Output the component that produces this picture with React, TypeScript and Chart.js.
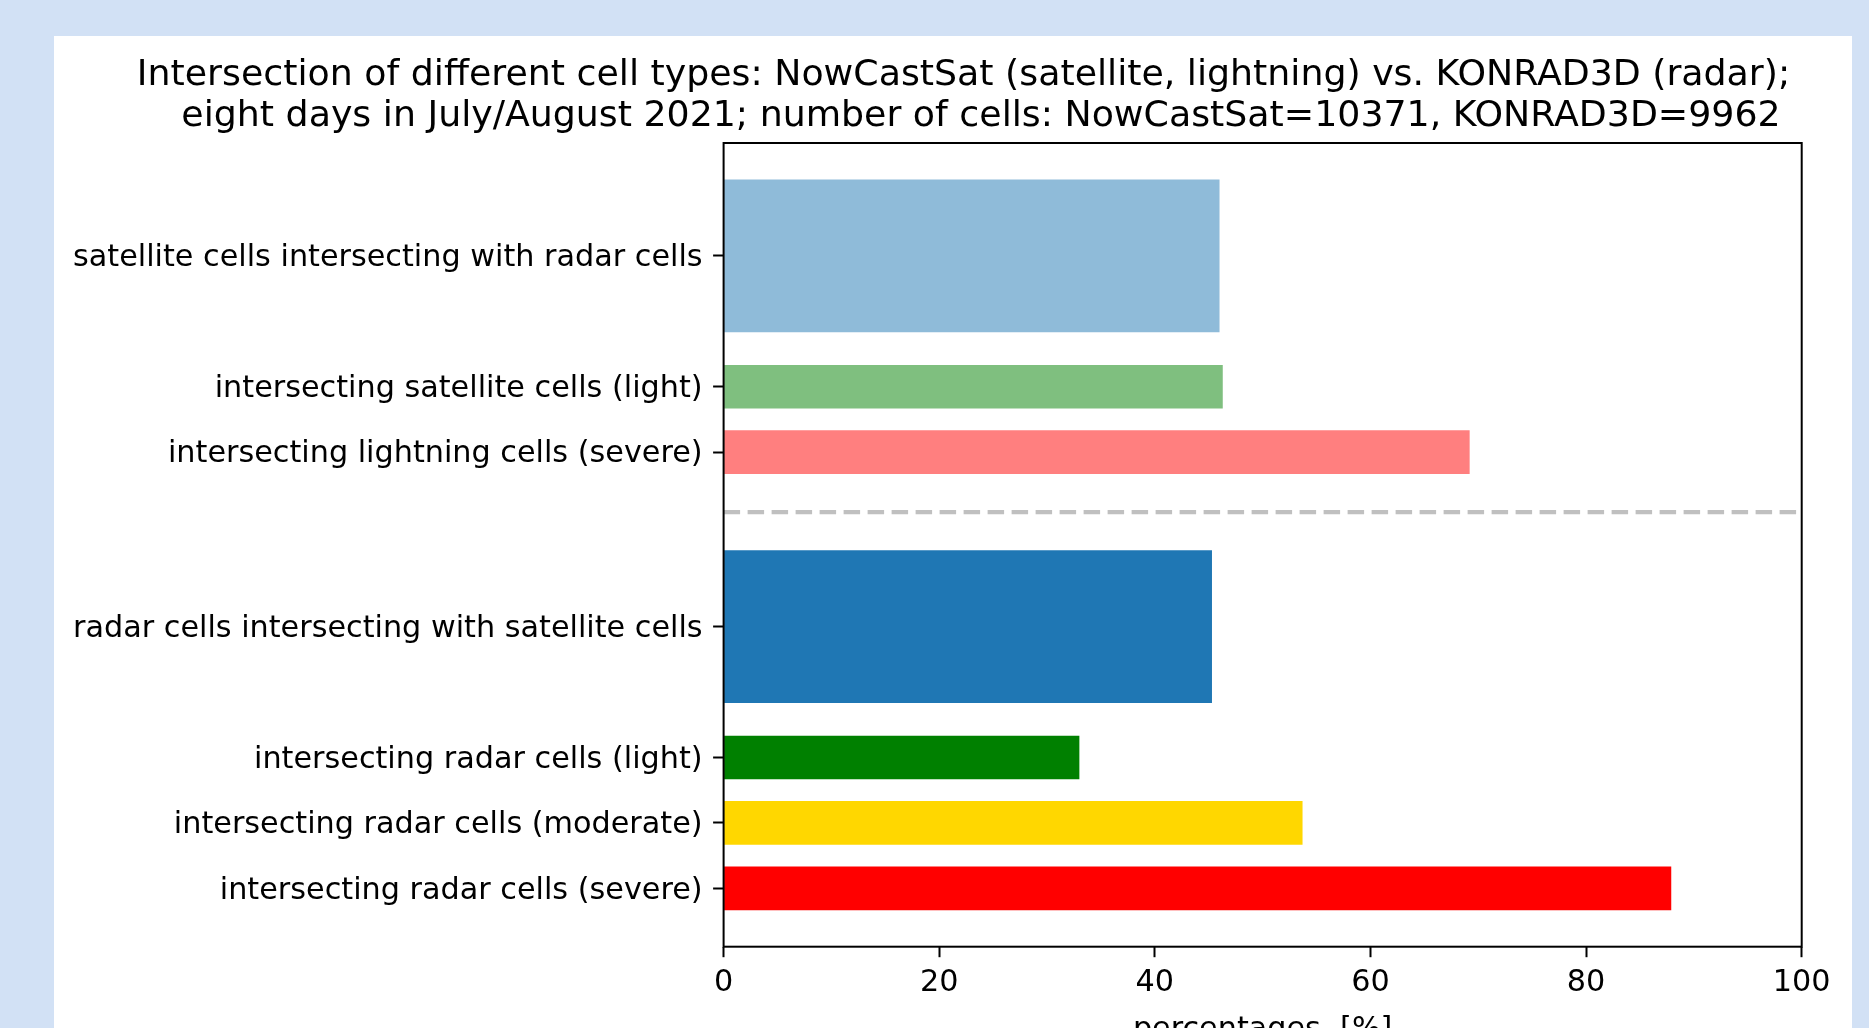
import { useEffect, useRef } from 'react';
import { Chart, registerables } from 'chart.js';

Chart.register(...registerables);

// ---- data ----
const TITLE_LINES = [
  'Intersection of different cell types: NowCastSat (satellite, lightning) vs. KONRAD3D (radar);',
  'eight days in July/August 2021; number of cells: NowCastSat=10371, KONRAD3D=9962',
];

const Y_LABELS = [
  'satellite cells intersecting with radar cells',
  'intersecting satellite cells (light)',
  'intersecting lightning cells (severe)',
  'radar cells intersecting with satellite cells',
  'intersecting radar cells (light)',
  'intersecting radar cells (moderate)',
  'intersecting radar cells (severe)',
];

// bar positions on the (numeric) category axis
const Y_POSITIONS = [2.9, 2.3, 2.0, 1.2, 0.6, 0.3, 0.0];

// percentages
const VALUES = [46.0, 46.3, 69.2, 45.3, 33.0, 53.7, 87.9];

// which bars are the overall (thick) bars
const IS_TOTAL = [true, false, false, true, false, false, false];

const X_TICKS = [0, 20, 40, 60, 80, 100];
const X_LABEL = 'percentages  [%]';
const SEPARATOR_Y = 1.725;

// ---- styles ----
const BAR_COLORS = ['#8fbbd9', '#7fbf7f', '#ff7f7f', '#1f77b4', '#008000', '#ffd700', '#ff0000'];
const PAGE_BG = '#d2e1f5';
const FONT = '"DejaVu Sans", "Noto Sans", sans-serif';
const CANVAS_W = 1798;
const CANVAS_H = 1100;
const Y_MIN = -0.2675;
const Y_MAX = 3.4175;

const framePlugin = {
  id: 'frameAndExtras',
  beforeDatasetsDraw(chart: any) {
    const { ctx, chartArea, scales } = chart;
    const y = scales.y.getPixelForValue(SEPARATOR_Y);
    ctx.save();
    ctx.strokeStyle = '#c0c0c0';
    ctx.lineWidth = 4.3;
    ctx.setLineDash([16.5, 7.5]);
    ctx.beginPath();
    ctx.moveTo(chartArea.left, y);
    ctx.lineTo(chartArea.right, y);
    ctx.stroke();
    ctx.restore();
  },
  afterDatasetsDraw(chart: any) {
    const { ctx, chartArea } = chart;
    ctx.save();
    ctx.strokeStyle = '#000';
    ctx.lineWidth = 2;
    ctx.strokeRect(chartArea.left, chartArea.top, chartArea.right - chartArea.left, chartArea.bottom - chartArea.top);
    ctx.restore();
  },
  afterDraw(chart: any) {
    const { ctx } = chart;
    ctx.save();
    ctx.fillStyle = '#000';
    ctx.font = `36.3px ${FONT}`;
    ctx.textAlign = 'center';
    ctx.textBaseline = 'alphabetic';
    ctx.fillText(TITLE_LINES[0], 909.5, 49);
    ctx.fillText(TITLE_LINES[1], 927, 89.5);
    ctx.restore();
  },
};

export default function App() {
  const ref = useRef<HTMLCanvasElement | null>(null);

  useEffect(() => {
    if (!ref.current) return;
    const idx = Y_POSITIONS.map((_, i) => i);
    const totalIdx = idx.filter((i) => IS_TOTAL[i]);
    const classIdx = idx.filter((i) => !IS_TOTAL[i]);

    const tickGrid = {
      drawOnChartArea: false,
      drawTicks: true,
      tickLength: 10.5,
      tickWidth: 2,
      tickColor: '#000',
    };

    const chart = new Chart(ref.current, {
      type: 'bar',
      data: {
        datasets: [
          {
            label: 'totals',
            data: totalIdx.map((i) => ({ x: VALUES[i], y: Y_POSITIONS[i] })),
            backgroundColor: totalIdx.map((i) => BAR_COLORS[i]),
            barPercentage: 7 / 3,
            categoryPercentage: 1,
            grouped: false,
            borderWidth: 0,
          },
          {
            label: 'classes',
            data: classIdx.map((i) => ({ x: VALUES[i], y: Y_POSITIONS[i] })),
            backgroundColor: classIdx.map((i) => BAR_COLORS[i]),
            barPercentage: 2 / 3,
            categoryPercentage: 1,
            grouped: false,
            borderWidth: 0,
          },
        ] as any,
      },
      options: {
        indexAxis: 'y',
        animation: false,
        responsive: false,
        maintainAspectRatio: false,
        devicePixelRatio: 1,
        layout: { padding: { left: 0, top: 107, right: 50.3, bottom: 39.3 } },
        plugins: {
          legend: { display: false },
          tooltip: { enabled: false },
          title: { display: false },
        },
        scales: {
          x: {
            type: 'linear',
            min: X_TICKS[0],
            max: X_TICKS[X_TICKS.length - 1],
            afterBuildTicks: (s: any) => {
              s.ticks = X_TICKS.map((v) => ({ value: v }));
            },
            ticks: {
              color: '#000',
              font: { size: 30.25, family: FONT },
              padding: 7.3,
              maxRotation: 0,
              autoSkip: false,
            },
            grid: tickGrid,
            border: { display: false },
            title: {
              display: true,
              text: X_LABEL,
              color: '#000',
              font: { size: 30.25, family: FONT },
              padding: { top: 0, bottom: 48.4 },
            },
            afterFit: (s: any) => {
              s.height = 150;
            },
          },
          y: {
            type: 'linear',
            min: Y_MIN,
            max: Y_MAX,
            offset: false,
            afterBuildTicks: (s: any) => {
              s.ticks = Y_POSITIONS.map((v) => ({ value: v }));
            },
            ticks: {
              autoSkip: false,
              callback: (_v: any, i: number) => Y_LABELS[i],
              color: '#000',
              font: { size: 30.25, family: FONT },
              padding: 10.5,
              labelOffset: 2.4,
            },
            grid: { ...tickGrid, offset: false },
            border: { display: false },
            afterFit: (s: any) => {
              s.width = 669.6;
            },
          },
        },
      } as any,
      plugins: [framePlugin],
    });
    return () => chart.destroy();
  }, []);

  return (
    <div style={{ position: 'fixed', inset: 0, background: PAGE_BG, overflow: 'hidden' }}>
      <div
        style={{
          position: 'absolute',
          left: 54,
          top: 36,
          width: CANVAS_W,
          height: CANVAS_H,
          background: '#fff',
        }}
      >
        <canvas ref={ref} width={CANVAS_W} height={CANVAS_H} style={{ display: 'block' }} />
      </div>
    </div>
  );
}
